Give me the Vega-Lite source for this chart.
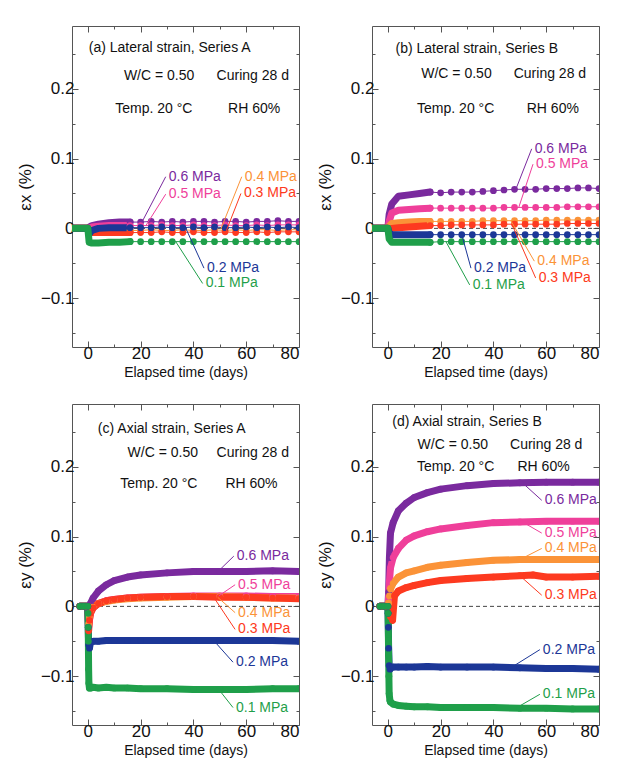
{
"$schema":"https://vega.github.io/schema/vega-lite/v6.json",
"padding":{"left":15,"top":25,"right":5,"bottom":5},
"config":{"font":"Liberation Sans","view":{"stroke":"#555","strokeWidth":1},"axis":{"grid":false,"domain":false,"tickColor":"#555","labelColor":"#111","labelFontSize":17,"titleColor":"#111","titleFontSize":17,"titleFontWeight":"normal"}},
"datasets":{
"series":[
{"panel":1,"series":"0.6 MPa","time":-5.5,"strain":0},{"panel":1,"series":"0.6 MPa","time":-2,"strain":0},{"panel":1,"series":"0.6 MPa","time":0,"strain":0},{"panel":1,"series":"0.6 MPa","time":0.5,"strain":0.002},{"panel":1,"series":"0.6 MPa","time":1.5,"strain":0.004},{"panel":1,"series":"0.6 MPa","time":4,"strain":0.006},{"panel":1,"series":"0.6 MPa","time":8,"strain":0.008},{"panel":1,"series":"0.6 MPa","time":12,"strain":0.009},{"panel":1,"series":"0.6 MPa","time":16,"strain":0.009},{"panel":1,"series":"0.6 MPa","time":20,"strain":0.009},{"panel":1,"series":"0.6 MPa","time":24,"strain":0.010},{"panel":1,"series":"0.6 MPa","time":28,"strain":0.009},{"panel":1,"series":"0.6 MPa","time":32,"strain":0.010},{"panel":1,"series":"0.6 MPa","time":36,"strain":0.009},{"panel":1,"series":"0.6 MPa","time":40,"strain":0.010},{"panel":1,"series":"0.6 MPa","time":44,"strain":0.010},{"panel":1,"series":"0.6 MPa","time":48,"strain":0.009},{"panel":1,"series":"0.6 MPa","time":52,"strain":0.010},{"panel":1,"series":"0.6 MPa","time":56,"strain":0.010},{"panel":1,"series":"0.6 MPa","time":60,"strain":0.009},{"panel":1,"series":"0.6 MPa","time":64,"strain":0.010},{"panel":1,"series":"0.6 MPa","time":68,"strain":0.010},{"panel":1,"series":"0.6 MPa","time":72,"strain":0.011},{"panel":1,"series":"0.6 MPa","time":76,"strain":0.010},{"panel":1,"series":"0.6 MPa","time":80,"strain":0.010},
{"panel":1,"series":"0.5 MPa","time":-5.5,"strain":0},{"panel":1,"series":"0.5 MPa","time":-2,"strain":0},{"panel":1,"series":"0.5 MPa","time":0,"strain":0},{"panel":1,"series":"0.5 MPa","time":0.5,"strain":0},{"panel":1,"series":"0.5 MPa","time":1.5,"strain":0.002},{"panel":1,"series":"0.5 MPa","time":4,"strain":0.003},{"panel":1,"series":"0.5 MPa","time":8,"strain":0.004},{"panel":1,"series":"0.5 MPa","time":12,"strain":0.004},{"panel":1,"series":"0.5 MPa","time":16,"strain":0.004},{"panel":1,"series":"0.5 MPa","time":20,"strain":0.004},{"panel":1,"series":"0.5 MPa","time":24,"strain":0.004},{"panel":1,"series":"0.5 MPa","time":28,"strain":0.005},{"panel":1,"series":"0.5 MPa","time":32,"strain":0.004},{"panel":1,"series":"0.5 MPa","time":36,"strain":0.004},{"panel":1,"series":"0.5 MPa","time":40,"strain":0.005},{"panel":1,"series":"0.5 MPa","time":44,"strain":0.004},{"panel":1,"series":"0.5 MPa","time":48,"strain":0.004},{"panel":1,"series":"0.5 MPa","time":52,"strain":0.005},{"panel":1,"series":"0.5 MPa","time":56,"strain":0.004},{"panel":1,"series":"0.5 MPa","time":60,"strain":0.004},{"panel":1,"series":"0.5 MPa","time":64,"strain":0.005},{"panel":1,"series":"0.5 MPa","time":68,"strain":0.004},{"panel":1,"series":"0.5 MPa","time":72,"strain":0.005},{"panel":1,"series":"0.5 MPa","time":76,"strain":0.005},{"panel":1,"series":"0.5 MPa","time":80,"strain":0.005},
{"panel":1,"series":"0.4 MPa","time":-5.5,"strain":0},{"panel":1,"series":"0.4 MPa","time":-2,"strain":0},{"panel":1,"series":"0.4 MPa","time":0,"strain":0},{"panel":1,"series":"0.4 MPa","time":0.5,"strain":-0.002},{"panel":1,"series":"0.4 MPa","time":1.5,"strain":-0.003},{"panel":1,"series":"0.4 MPa","time":4,"strain":-0.003},{"panel":1,"series":"0.4 MPa","time":8,"strain":-0.003},{"panel":1,"series":"0.4 MPa","time":12,"strain":-0.003},{"panel":1,"series":"0.4 MPa","time":16,"strain":-0.003},{"panel":1,"series":"0.4 MPa","time":20,"strain":-0.003},{"panel":1,"series":"0.4 MPa","time":24,"strain":-0.002},{"panel":1,"series":"0.4 MPa","time":28,"strain":-0.003},{"panel":1,"series":"0.4 MPa","time":32,"strain":-0.003},{"panel":1,"series":"0.4 MPa","time":36,"strain":-0.002},{"panel":1,"series":"0.4 MPa","time":40,"strain":-0.003},{"panel":1,"series":"0.4 MPa","time":44,"strain":-0.003},{"panel":1,"series":"0.4 MPa","time":48,"strain":-0.002},{"panel":1,"series":"0.4 MPa","time":52,"strain":-0.003},{"panel":1,"series":"0.4 MPa","time":56,"strain":-0.002},{"panel":1,"series":"0.4 MPa","time":60,"strain":-0.003},{"panel":1,"series":"0.4 MPa","time":64,"strain":-0.002},{"panel":1,"series":"0.4 MPa","time":68,"strain":-0.002},{"panel":1,"series":"0.4 MPa","time":72,"strain":-0.003},{"panel":1,"series":"0.4 MPa","time":76,"strain":-0.002},{"panel":1,"series":"0.4 MPa","time":80,"strain":-0.002},
{"panel":1,"series":"0.3 MPa","time":-5.5,"strain":0},{"panel":1,"series":"0.3 MPa","time":-2,"strain":0},{"panel":1,"series":"0.3 MPa","time":0,"strain":0},{"panel":1,"series":"0.3 MPa","time":0.5,"strain":-0.004},{"panel":1,"series":"0.3 MPa","time":1.5,"strain":-0.006},{"panel":1,"series":"0.3 MPa","time":4,"strain":-0.006},{"panel":1,"series":"0.3 MPa","time":8,"strain":-0.006},{"panel":1,"series":"0.3 MPa","time":12,"strain":-0.006},{"panel":1,"series":"0.3 MPa","time":16,"strain":-0.006},{"panel":1,"series":"0.3 MPa","time":20,"strain":-0.006},{"panel":1,"series":"0.3 MPa","time":24,"strain":-0.006},{"panel":1,"series":"0.3 MPa","time":28,"strain":-0.005},{"panel":1,"series":"0.3 MPa","time":32,"strain":-0.006},{"panel":1,"series":"0.3 MPa","time":36,"strain":-0.006},{"panel":1,"series":"0.3 MPa","time":40,"strain":-0.005},{"panel":1,"series":"0.3 MPa","time":44,"strain":-0.006},{"panel":1,"series":"0.3 MPa","time":48,"strain":-0.006},{"panel":1,"series":"0.3 MPa","time":52,"strain":-0.005},{"panel":1,"series":"0.3 MPa","time":56,"strain":-0.006},{"panel":1,"series":"0.3 MPa","time":60,"strain":-0.006},{"panel":1,"series":"0.3 MPa","time":64,"strain":-0.005},{"panel":1,"series":"0.3 MPa","time":68,"strain":-0.006},{"panel":1,"series":"0.3 MPa","time":72,"strain":-0.005},{"panel":1,"series":"0.3 MPa","time":76,"strain":-0.005},{"panel":1,"series":"0.3 MPa","time":80,"strain":-0.005},
{"panel":1,"series":"0.2 MPa","time":-5.5,"strain":0},{"panel":1,"series":"0.2 MPa","time":-2,"strain":0},{"panel":1,"series":"0.2 MPa","time":0,"strain":0},{"panel":1,"series":"0.2 MPa","time":0.5,"strain":-0.008},{"panel":1,"series":"0.2 MPa","time":1.5,"strain":-0.003},{"panel":1,"series":"0.2 MPa","time":4,"strain":0},{"panel":1,"series":"0.2 MPa","time":8,"strain":0.001},{"panel":1,"series":"0.2 MPa","time":12,"strain":0.001},{"panel":1,"series":"0.2 MPa","time":16,"strain":0.001},{"panel":1,"series":"0.2 MPa","time":20,"strain":0.001},{"panel":1,"series":"0.2 MPa","time":24,"strain":0.001},{"panel":1,"series":"0.2 MPa","time":28,"strain":0.002},{"panel":1,"series":"0.2 MPa","time":32,"strain":0.001},{"panel":1,"series":"0.2 MPa","time":36,"strain":0.001},{"panel":1,"series":"0.2 MPa","time":40,"strain":0.002},{"panel":1,"series":"0.2 MPa","time":44,"strain":0.001},{"panel":1,"series":"0.2 MPa","time":48,"strain":0.002},{"panel":1,"series":"0.2 MPa","time":52,"strain":0.001},{"panel":1,"series":"0.2 MPa","time":56,"strain":0.001},{"panel":1,"series":"0.2 MPa","time":60,"strain":0.002},{"panel":1,"series":"0.2 MPa","time":64,"strain":0.001},{"panel":1,"series":"0.2 MPa","time":68,"strain":0.002},{"panel":1,"series":"0.2 MPa","time":72,"strain":0.001},{"panel":1,"series":"0.2 MPa","time":76,"strain":0.002},{"panel":1,"series":"0.2 MPa","time":80,"strain":0.001},
{"panel":1,"series":"0.1 MPa","time":-5.5,"strain":0},{"panel":1,"series":"0.1 MPa","time":-2,"strain":0},{"panel":1,"series":"0.1 MPa","time":0,"strain":0},{"panel":1,"series":"0.1 MPa","time":0.5,"strain":-0.02},{"panel":1,"series":"0.1 MPa","time":1.5,"strain":-0.021},{"panel":1,"series":"0.1 MPa","time":4,"strain":-0.021},{"panel":1,"series":"0.1 MPa","time":8,"strain":-0.02},{"panel":1,"series":"0.1 MPa","time":12,"strain":-0.02},{"panel":1,"series":"0.1 MPa","time":16,"strain":-0.019},{"panel":1,"series":"0.1 MPa","time":20,"strain":-0.019},{"panel":1,"series":"0.1 MPa","time":24,"strain":-0.019},{"panel":1,"series":"0.1 MPa","time":28,"strain":-0.019},{"panel":1,"series":"0.1 MPa","time":32,"strain":-0.019},{"panel":1,"series":"0.1 MPa","time":36,"strain":-0.019},{"panel":1,"series":"0.1 MPa","time":40,"strain":-0.019},{"panel":1,"series":"0.1 MPa","time":44,"strain":-0.019},{"panel":1,"series":"0.1 MPa","time":48,"strain":-0.019},{"panel":1,"series":"0.1 MPa","time":52,"strain":-0.019},{"panel":1,"series":"0.1 MPa","time":56,"strain":-0.019},{"panel":1,"series":"0.1 MPa","time":60,"strain":-0.019},{"panel":1,"series":"0.1 MPa","time":64,"strain":-0.019},{"panel":1,"series":"0.1 MPa","time":68,"strain":-0.019},{"panel":1,"series":"0.1 MPa","time":72,"strain":-0.019},{"panel":1,"series":"0.1 MPa","time":76,"strain":-0.019},{"panel":1,"series":"0.1 MPa","time":80,"strain":-0.019},
{"panel":2,"series":"0.6 MPa","time":-5.5,"strain":0},{"panel":2,"series":"0.6 MPa","time":-2,"strain":0},{"panel":2,"series":"0.6 MPa","time":0,"strain":0},{"panel":2,"series":"0.6 MPa","time":0.5,"strain":0.02},{"panel":2,"series":"0.6 MPa","time":1.5,"strain":0.035},{"panel":2,"series":"0.6 MPa","time":4,"strain":0.046},{"panel":2,"series":"0.6 MPa","time":8,"strain":0.048},{"panel":2,"series":"0.6 MPa","time":12,"strain":0.05},{"panel":2,"series":"0.6 MPa","time":16,"strain":0.052},{"panel":2,"series":"0.6 MPa","time":20,"strain":0.051},{"panel":2,"series":"0.6 MPa","time":24,"strain":0.052},{"panel":2,"series":"0.6 MPa","time":28,"strain":0.052},{"panel":2,"series":"0.6 MPa","time":32,"strain":0.052},{"panel":2,"series":"0.6 MPa","time":36,"strain":0.053},{"panel":2,"series":"0.6 MPa","time":40,"strain":0.054},{"panel":2,"series":"0.6 MPa","time":44,"strain":0.055},{"panel":2,"series":"0.6 MPa","time":48,"strain":0.056},{"panel":2,"series":"0.6 MPa","time":52,"strain":0.056},{"panel":2,"series":"0.6 MPa","time":56,"strain":0.056},{"panel":2,"series":"0.6 MPa","time":60,"strain":0.057},{"panel":2,"series":"0.6 MPa","time":64,"strain":0.057},{"panel":2,"series":"0.6 MPa","time":68,"strain":0.057},{"panel":2,"series":"0.6 MPa","time":72,"strain":0.058},{"panel":2,"series":"0.6 MPa","time":76,"strain":0.058},{"panel":2,"series":"0.6 MPa","time":80,"strain":0.057},
{"panel":2,"series":"0.5 MPa","time":-5.5,"strain":0},{"panel":2,"series":"0.5 MPa","time":-2,"strain":0},{"panel":2,"series":"0.5 MPa","time":0,"strain":0},{"panel":2,"series":"0.5 MPa","time":0.5,"strain":0.01},{"panel":2,"series":"0.5 MPa","time":1.5,"strain":0.022},{"panel":2,"series":"0.5 MPa","time":4,"strain":0.026},{"panel":2,"series":"0.5 MPa","time":8,"strain":0.027},{"panel":2,"series":"0.5 MPa","time":12,"strain":0.028},{"panel":2,"series":"0.5 MPa","time":16,"strain":0.029},{"panel":2,"series":"0.5 MPa","time":20,"strain":0.029},{"panel":2,"series":"0.5 MPa","time":24,"strain":0.029},{"panel":2,"series":"0.5 MPa","time":28,"strain":0.029},{"panel":2,"series":"0.5 MPa","time":32,"strain":0.029},{"panel":2,"series":"0.5 MPa","time":36,"strain":0.029},{"panel":2,"series":"0.5 MPa","time":40,"strain":0.029},{"panel":2,"series":"0.5 MPa","time":44,"strain":0.03},{"panel":2,"series":"0.5 MPa","time":48,"strain":0.03},{"panel":2,"series":"0.5 MPa","time":52,"strain":0.03},{"panel":2,"series":"0.5 MPa","time":56,"strain":0.03},{"panel":2,"series":"0.5 MPa","time":60,"strain":0.03},{"panel":2,"series":"0.5 MPa","time":64,"strain":0.03},{"panel":2,"series":"0.5 MPa","time":68,"strain":0.031},{"panel":2,"series":"0.5 MPa","time":72,"strain":0.031},{"panel":2,"series":"0.5 MPa","time":76,"strain":0.031},{"panel":2,"series":"0.5 MPa","time":80,"strain":0.031},
{"panel":2,"series":"0.4 MPa","time":-5.5,"strain":0},{"panel":2,"series":"0.4 MPa","time":-2,"strain":0},{"panel":2,"series":"0.4 MPa","time":0,"strain":0},{"panel":2,"series":"0.4 MPa","time":0.5,"strain":0.003},{"panel":2,"series":"0.4 MPa","time":1.5,"strain":0.007},{"panel":2,"series":"0.4 MPa","time":4,"strain":0.008},{"panel":2,"series":"0.4 MPa","time":8,"strain":0.009},{"panel":2,"series":"0.4 MPa","time":12,"strain":0.01},{"panel":2,"series":"0.4 MPa","time":16,"strain":0.01},{"panel":2,"series":"0.4 MPa","time":20,"strain":0.01},{"panel":2,"series":"0.4 MPa","time":24,"strain":0.01},{"panel":2,"series":"0.4 MPa","time":28,"strain":0.01},{"panel":2,"series":"0.4 MPa","time":32,"strain":0.01},{"panel":2,"series":"0.4 MPa","time":36,"strain":0.011},{"panel":2,"series":"0.4 MPa","time":40,"strain":0.011},{"panel":2,"series":"0.4 MPa","time":44,"strain":0.011},{"panel":2,"series":"0.4 MPa","time":48,"strain":0.011},{"panel":2,"series":"0.4 MPa","time":52,"strain":0.011},{"panel":2,"series":"0.4 MPa","time":56,"strain":0.011},{"panel":2,"series":"0.4 MPa","time":60,"strain":0.012},{"panel":2,"series":"0.4 MPa","time":64,"strain":0.012},{"panel":2,"series":"0.4 MPa","time":68,"strain":0.012},{"panel":2,"series":"0.4 MPa","time":72,"strain":0.012},{"panel":2,"series":"0.4 MPa","time":76,"strain":0.012},{"panel":2,"series":"0.4 MPa","time":80,"strain":0.012},
{"panel":2,"series":"0.3 MPa","time":-5.5,"strain":0},{"panel":2,"series":"0.3 MPa","time":-2,"strain":0},{"panel":2,"series":"0.3 MPa","time":0,"strain":0},{"panel":2,"series":"0.3 MPa","time":0.5,"strain":-0.002},{"panel":2,"series":"0.3 MPa","time":1.5,"strain":0},{"panel":2,"series":"0.3 MPa","time":4,"strain":0.001},{"panel":2,"series":"0.3 MPa","time":8,"strain":0.002},{"panel":2,"series":"0.3 MPa","time":12,"strain":0.003},{"panel":2,"series":"0.3 MPa","time":16,"strain":0.004},{"panel":2,"series":"0.3 MPa","time":20,"strain":0.004},{"panel":2,"series":"0.3 MPa","time":24,"strain":0.005},{"panel":2,"series":"0.3 MPa","time":28,"strain":0.005},{"panel":2,"series":"0.3 MPa","time":32,"strain":0.005},{"panel":2,"series":"0.3 MPa","time":36,"strain":0.005},{"panel":2,"series":"0.3 MPa","time":40,"strain":0.005},{"panel":2,"series":"0.3 MPa","time":44,"strain":0.006},{"panel":2,"series":"0.3 MPa","time":48,"strain":0.006},{"panel":2,"series":"0.3 MPa","time":52,"strain":0.006},{"panel":2,"series":"0.3 MPa","time":56,"strain":0.006},{"panel":2,"series":"0.3 MPa","time":60,"strain":0.006},{"panel":2,"series":"0.3 MPa","time":64,"strain":0.006},{"panel":2,"series":"0.3 MPa","time":68,"strain":0.007},{"panel":2,"series":"0.3 MPa","time":72,"strain":0.007},{"panel":2,"series":"0.3 MPa","time":76,"strain":0.007},{"panel":2,"series":"0.3 MPa","time":80,"strain":0.007},
{"panel":2,"series":"0.2 MPa","time":-5.5,"strain":0},{"panel":2,"series":"0.2 MPa","time":-2,"strain":0},{"panel":2,"series":"0.2 MPa","time":0,"strain":0},{"panel":2,"series":"0.2 MPa","time":0.5,"strain":-0.006},{"panel":2,"series":"0.2 MPa","time":1.5,"strain":-0.009},{"panel":2,"series":"0.2 MPa","time":4,"strain":-0.009},{"panel":2,"series":"0.2 MPa","time":8,"strain":-0.009},{"panel":2,"series":"0.2 MPa","time":12,"strain":-0.009},{"panel":2,"series":"0.2 MPa","time":16,"strain":-0.009},{"panel":2,"series":"0.2 MPa","time":20,"strain":-0.009},{"panel":2,"series":"0.2 MPa","time":24,"strain":-0.009},{"panel":2,"series":"0.2 MPa","time":28,"strain":-0.009},{"panel":2,"series":"0.2 MPa","time":32,"strain":-0.009},{"panel":2,"series":"0.2 MPa","time":36,"strain":-0.009},{"panel":2,"series":"0.2 MPa","time":40,"strain":-0.009},{"panel":2,"series":"0.2 MPa","time":44,"strain":-0.009},{"panel":2,"series":"0.2 MPa","time":48,"strain":-0.009},{"panel":2,"series":"0.2 MPa","time":52,"strain":-0.009},{"panel":2,"series":"0.2 MPa","time":56,"strain":-0.009},{"panel":2,"series":"0.2 MPa","time":60,"strain":-0.009},{"panel":2,"series":"0.2 MPa","time":64,"strain":-0.009},{"panel":2,"series":"0.2 MPa","time":68,"strain":-0.009},{"panel":2,"series":"0.2 MPa","time":72,"strain":-0.009},{"panel":2,"series":"0.2 MPa","time":76,"strain":-0.009},{"panel":2,"series":"0.2 MPa","time":80,"strain":-0.009},
{"panel":2,"series":"0.1 MPa","time":-5.5,"strain":0},{"panel":2,"series":"0.1 MPa","time":-2,"strain":0},{"panel":2,"series":"0.1 MPa","time":0,"strain":0},{"panel":2,"series":"0.1 MPa","time":0.5,"strain":-0.015},{"panel":2,"series":"0.1 MPa","time":1.5,"strain":-0.02},{"panel":2,"series":"0.1 MPa","time":4,"strain":-0.02},{"panel":2,"series":"0.1 MPa","time":8,"strain":-0.02},{"panel":2,"series":"0.1 MPa","time":12,"strain":-0.02},{"panel":2,"series":"0.1 MPa","time":16,"strain":-0.02},{"panel":2,"series":"0.1 MPa","time":20,"strain":-0.019},{"panel":2,"series":"0.1 MPa","time":24,"strain":-0.019},{"panel":2,"series":"0.1 MPa","time":28,"strain":-0.019},{"panel":2,"series":"0.1 MPa","time":32,"strain":-0.019},{"panel":2,"series":"0.1 MPa","time":36,"strain":-0.019},{"panel":2,"series":"0.1 MPa","time":40,"strain":-0.019},{"panel":2,"series":"0.1 MPa","time":44,"strain":-0.019},{"panel":2,"series":"0.1 MPa","time":48,"strain":-0.019},{"panel":2,"series":"0.1 MPa","time":52,"strain":-0.019},{"panel":2,"series":"0.1 MPa","time":56,"strain":-0.019},{"panel":2,"series":"0.1 MPa","time":60,"strain":-0.019},{"panel":2,"series":"0.1 MPa","time":64,"strain":-0.019},{"panel":2,"series":"0.1 MPa","time":68,"strain":-0.019},{"panel":2,"series":"0.1 MPa","time":72,"strain":-0.019},{"panel":2,"series":"0.1 MPa","time":76,"strain":-0.019},{"panel":2,"series":"0.1 MPa","time":80,"strain":-0.019},
{"panel":3,"series":"0.6 MPa","time":-3,"strain":0},{"panel":3,"series":"0.6 MPa","time":-1.5,"strain":0},{"panel":3,"series":"0.6 MPa","time":0,"strain":0},{"panel":3,"series":"0.6 MPa","time":0.3,"strain":-0.005},{"panel":3,"series":"0.6 MPa","time":0.6,"strain":-0.002},{"panel":3,"series":"0.6 MPa","time":1,"strain":0.004},{"panel":3,"series":"0.6 MPa","time":2,"strain":0.012},{"panel":3,"series":"0.6 MPa","time":4,"strain":0.022},{"panel":3,"series":"0.6 MPa","time":7,"strain":0.031},{"panel":3,"series":"0.6 MPa","time":10,"strain":0.037},{"panel":3,"series":"0.6 MPa","time":15,"strain":0.042},{"panel":3,"series":"0.6 MPa","time":20,"strain":0.045},{"panel":3,"series":"0.6 MPa","time":30,"strain":0.048},{"panel":3,"series":"0.6 MPa","time":40,"strain":0.05},{"panel":3,"series":"0.6 MPa","time":50,"strain":0.05},{"panel":3,"series":"0.6 MPa","time":60,"strain":0.05},{"panel":3,"series":"0.6 MPa","time":70,"strain":0.051},{"panel":3,"series":"0.6 MPa","time":80,"strain":0.05},
{"panel":3,"series":"0.5 MPa","time":-3,"strain":0},{"panel":3,"series":"0.5 MPa","time":-1.5,"strain":0},{"panel":3,"series":"0.5 MPa","time":0,"strain":0},{"panel":3,"series":"0.5 MPa","time":0.3,"strain":-0.03},{"panel":3,"series":"0.5 MPa","time":0.6,"strain":-0.02},{"panel":3,"series":"0.5 MPa","time":1,"strain":-0.01},{"panel":3,"series":"0.5 MPa","time":2,"strain":-0.002},{"panel":3,"series":"0.5 MPa","time":4,"strain":0.004},{"panel":3,"series":"0.5 MPa","time":7,"strain":0.008},{"panel":3,"series":"0.5 MPa","time":10,"strain":0.01},{"panel":3,"series":"0.5 MPa","time":15,"strain":0.012},{"panel":3,"series":"0.5 MPa","time":20,"strain":0.013},{"panel":3,"series":"0.5 MPa","time":30,"strain":0.014},{"panel":3,"series":"0.5 MPa","time":40,"strain":0.015},{"panel":3,"series":"0.5 MPa","time":50,"strain":0.015},{"panel":3,"series":"0.5 MPa","time":60,"strain":0.015},{"panel":3,"series":"0.5 MPa","time":70,"strain":0.014},{"panel":3,"series":"0.5 MPa","time":80,"strain":0.014},
{"panel":3,"series":"0.4 MPa","time":-3,"strain":0},{"panel":3,"series":"0.4 MPa","time":-1.5,"strain":0},{"panel":3,"series":"0.4 MPa","time":0,"strain":0},{"panel":3,"series":"0.4 MPa","time":0.3,"strain":-0.025},{"panel":3,"series":"0.4 MPa","time":0.6,"strain":-0.015},{"panel":3,"series":"0.4 MPa","time":1,"strain":-0.008},{"panel":3,"series":"0.4 MPa","time":2,"strain":-0.001},{"panel":3,"series":"0.4 MPa","time":4,"strain":0.004},{"panel":3,"series":"0.4 MPa","time":7,"strain":0.007},{"panel":3,"series":"0.4 MPa","time":10,"strain":0.009},{"panel":3,"series":"0.4 MPa","time":15,"strain":0.011},{"panel":3,"series":"0.4 MPa","time":20,"strain":0.012},{"panel":3,"series":"0.4 MPa","time":30,"strain":0.013},{"panel":3,"series":"0.4 MPa","time":40,"strain":0.014},{"panel":3,"series":"0.4 MPa","time":50,"strain":0.014},{"panel":3,"series":"0.4 MPa","time":60,"strain":0.013},{"panel":3,"series":"0.4 MPa","time":70,"strain":0.012},{"panel":3,"series":"0.4 MPa","time":80,"strain":0.012},
{"panel":3,"series":"0.3 MPa","time":-3,"strain":0},{"panel":3,"series":"0.3 MPa","time":-1.5,"strain":0},{"panel":3,"series":"0.3 MPa","time":0,"strain":0},{"panel":3,"series":"0.3 MPa","time":0.3,"strain":-0.035},{"panel":3,"series":"0.3 MPa","time":0.6,"strain":-0.02},{"panel":3,"series":"0.3 MPa","time":1,"strain":-0.01},{"panel":3,"series":"0.3 MPa","time":2,"strain":-0.002},{"panel":3,"series":"0.3 MPa","time":4,"strain":0.004},{"panel":3,"series":"0.3 MPa","time":7,"strain":0.008},{"panel":3,"series":"0.3 MPa","time":10,"strain":0.01},{"panel":3,"series":"0.3 MPa","time":15,"strain":0.012},{"panel":3,"series":"0.3 MPa","time":20,"strain":0.013},{"panel":3,"series":"0.3 MPa","time":30,"strain":0.014},{"panel":3,"series":"0.3 MPa","time":40,"strain":0.014},{"panel":3,"series":"0.3 MPa","time":50,"strain":0.013},{"panel":3,"series":"0.3 MPa","time":60,"strain":0.013},{"panel":3,"series":"0.3 MPa","time":70,"strain":0.012},{"panel":3,"series":"0.3 MPa","time":80,"strain":0.011},
{"panel":3,"series":"0.2 MPa","time":-3,"strain":0},{"panel":3,"series":"0.2 MPa","time":-1.5,"strain":0},{"panel":3,"series":"0.2 MPa","time":0,"strain":0},{"panel":3,"series":"0.2 MPa","time":0.15,"strain":-0.03},{"panel":3,"series":"0.2 MPa","time":0.3,"strain":-0.055},{"panel":3,"series":"0.2 MPa","time":0.6,"strain":-0.06},{"panel":3,"series":"0.2 MPa","time":1,"strain":-0.052},{"panel":3,"series":"0.2 MPa","time":2,"strain":-0.05},{"panel":3,"series":"0.2 MPa","time":4,"strain":-0.05},{"panel":3,"series":"0.2 MPa","time":7,"strain":-0.049},{"panel":3,"series":"0.2 MPa","time":10,"strain":-0.049},{"panel":3,"series":"0.2 MPa","time":15,"strain":-0.049},{"panel":3,"series":"0.2 MPa","time":20,"strain":-0.049},{"panel":3,"series":"0.2 MPa","time":30,"strain":-0.049},{"panel":3,"series":"0.2 MPa","time":40,"strain":-0.049},{"panel":3,"series":"0.2 MPa","time":50,"strain":-0.049},{"panel":3,"series":"0.2 MPa","time":60,"strain":-0.049},{"panel":3,"series":"0.2 MPa","time":70,"strain":-0.049},{"panel":3,"series":"0.2 MPa","time":80,"strain":-0.05},
{"panel":3,"series":"0.1 MPa","time":-3,"strain":0},{"panel":3,"series":"0.1 MPa","time":-1.5,"strain":0},{"panel":3,"series":"0.1 MPa","time":0,"strain":0},{"panel":3,"series":"0.1 MPa","time":0.1,"strain":-0.01},{"panel":3,"series":"0.1 MPa","time":0.15,"strain":-0.03},{"panel":3,"series":"0.1 MPa","time":0.2,"strain":-0.05},{"panel":3,"series":"0.1 MPa","time":0.25,"strain":-0.07},{"panel":3,"series":"0.1 MPa","time":0.3,"strain":-0.09},{"panel":3,"series":"0.1 MPa","time":0.4,"strain":-0.11},{"panel":3,"series":"0.1 MPa","time":0.6,"strain":-0.117},{"panel":3,"series":"0.1 MPa","time":1,"strain":-0.117},{"panel":3,"series":"0.1 MPa","time":2,"strain":-0.116},{"panel":3,"series":"0.1 MPa","time":4,"strain":-0.117},{"panel":3,"series":"0.1 MPa","time":7,"strain":-0.116},{"panel":3,"series":"0.1 MPa","time":10,"strain":-0.117},{"panel":3,"series":"0.1 MPa","time":15,"strain":-0.117},{"panel":3,"series":"0.1 MPa","time":20,"strain":-0.118},{"panel":3,"series":"0.1 MPa","time":30,"strain":-0.118},{"panel":3,"series":"0.1 MPa","time":40,"strain":-0.119},{"panel":3,"series":"0.1 MPa","time":50,"strain":-0.119},{"panel":3,"series":"0.1 MPa","time":60,"strain":-0.119},{"panel":3,"series":"0.1 MPa","time":70,"strain":-0.118},{"panel":3,"series":"0.1 MPa","time":80,"strain":-0.118},
{"panel":4,"series":"0.6 MPa","time":-3,"strain":0},{"panel":4,"series":"0.6 MPa","time":-1.5,"strain":0},{"panel":4,"series":"0.6 MPa","time":0,"strain":0},{"panel":4,"series":"0.6 MPa","time":0.3,"strain":0.02},{"panel":4,"series":"0.6 MPa","time":0.6,"strain":0.07},{"panel":4,"series":"0.6 MPa","time":1,"strain":0.105},{"panel":4,"series":"0.6 MPa","time":2,"strain":0.12},{"panel":4,"series":"0.6 MPa","time":4,"strain":0.137},{"panel":4,"series":"0.6 MPa","time":7,"strain":0.148},{"panel":4,"series":"0.6 MPa","time":10,"strain":0.156},{"panel":4,"series":"0.6 MPa","time":15,"strain":0.163},{"panel":4,"series":"0.6 MPa","time":20,"strain":0.168},{"panel":4,"series":"0.6 MPa","time":30,"strain":0.173},{"panel":4,"series":"0.6 MPa","time":40,"strain":0.176},{"panel":4,"series":"0.6 MPa","time":50,"strain":0.177},{"panel":4,"series":"0.6 MPa","time":60,"strain":0.178},{"panel":4,"series":"0.6 MPa","time":70,"strain":0.178},{"panel":4,"series":"0.6 MPa","time":80,"strain":0.178},
{"panel":4,"series":"0.5 MPa","time":-3,"strain":0},{"panel":4,"series":"0.5 MPa","time":-1.5,"strain":0},{"panel":4,"series":"0.5 MPa","time":0,"strain":0},{"panel":4,"series":"0.5 MPa","time":0.3,"strain":0.01},{"panel":4,"series":"0.5 MPa","time":0.6,"strain":0.035},{"panel":4,"series":"0.5 MPa","time":1,"strain":0.055},{"panel":4,"series":"0.5 MPa","time":2,"strain":0.07},{"panel":4,"series":"0.5 MPa","time":4,"strain":0.083},{"panel":4,"series":"0.5 MPa","time":7,"strain":0.095},{"panel":4,"series":"0.5 MPa","time":10,"strain":0.101},{"panel":4,"series":"0.5 MPa","time":15,"strain":0.107},{"panel":4,"series":"0.5 MPa","time":20,"strain":0.111},{"panel":4,"series":"0.5 MPa","time":30,"strain":0.116},{"panel":4,"series":"0.5 MPa","time":40,"strain":0.12},{"panel":4,"series":"0.5 MPa","time":50,"strain":0.121},{"panel":4,"series":"0.5 MPa","time":60,"strain":0.122},{"panel":4,"series":"0.5 MPa","time":70,"strain":0.122},{"panel":4,"series":"0.5 MPa","time":80,"strain":0.122},
{"panel":4,"series":"0.4 MPa","time":-3,"strain":0},{"panel":4,"series":"0.4 MPa","time":-1.5,"strain":0},{"panel":4,"series":"0.4 MPa","time":0,"strain":0},{"panel":4,"series":"0.4 MPa","time":0.3,"strain":0.005},{"panel":4,"series":"0.4 MPa","time":0.6,"strain":0.015},{"panel":4,"series":"0.4 MPa","time":1,"strain":0.025},{"panel":4,"series":"0.4 MPa","time":2,"strain":0.033},{"panel":4,"series":"0.4 MPa","time":4,"strain":0.042},{"panel":4,"series":"0.4 MPa","time":7,"strain":0.048},{"panel":4,"series":"0.4 MPa","time":10,"strain":0.051},{"panel":4,"series":"0.4 MPa","time":15,"strain":0.056},{"panel":4,"series":"0.4 MPa","time":20,"strain":0.059},{"panel":4,"series":"0.4 MPa","time":30,"strain":0.063},{"panel":4,"series":"0.4 MPa","time":40,"strain":0.066},{"panel":4,"series":"0.4 MPa","time":50,"strain":0.067},{"panel":4,"series":"0.4 MPa","time":60,"strain":0.067},{"panel":4,"series":"0.4 MPa","time":70,"strain":0.067},{"panel":4,"series":"0.4 MPa","time":80,"strain":0.067},
{"panel":4,"series":"0.3 MPa","time":-3,"strain":0},{"panel":4,"series":"0.3 MPa","time":-1.5,"strain":0},{"panel":4,"series":"0.3 MPa","time":0,"strain":0},{"panel":4,"series":"0.3 MPa","time":0.5,"strain":-0.005},{"panel":4,"series":"0.3 MPa","time":1,"strain":-0.015},{"panel":4,"series":"0.3 MPa","time":1.8,"strain":-0.02},{"panel":4,"series":"0.3 MPa","time":2.5,"strain":0.015},{"panel":4,"series":"0.3 MPa","time":4,"strain":0.022},{"panel":4,"series":"0.3 MPa","time":7,"strain":0.027},{"panel":4,"series":"0.3 MPa","time":10,"strain":0.03},{"panel":4,"series":"0.3 MPa","time":15,"strain":0.034},{"panel":4,"series":"0.3 MPa","time":20,"strain":0.037},{"panel":4,"series":"0.3 MPa","time":30,"strain":0.04},{"panel":4,"series":"0.3 MPa","time":40,"strain":0.042},{"panel":4,"series":"0.3 MPa","time":50,"strain":0.044},{"panel":4,"series":"0.3 MPa","time":55,"strain":0.045},{"panel":4,"series":"0.3 MPa","time":60,"strain":0.042},{"panel":4,"series":"0.3 MPa","time":70,"strain":0.042},{"panel":4,"series":"0.3 MPa","time":80,"strain":0.043},
{"panel":4,"series":"0.2 MPa","time":-3,"strain":0},{"panel":4,"series":"0.2 MPa","time":-1.5,"strain":0},{"panel":4,"series":"0.2 MPa","time":0,"strain":0},{"panel":4,"series":"0.2 MPa","time":0.1,"strain":-0.01},{"panel":4,"series":"0.2 MPa","time":0.2,"strain":-0.03},{"panel":4,"series":"0.2 MPa","time":0.3,"strain":-0.06},{"panel":4,"series":"0.2 MPa","time":0.5,"strain":-0.085},{"panel":4,"series":"0.2 MPa","time":0.8,"strain":-0.09},{"panel":4,"series":"0.2 MPa","time":1,"strain":-0.088},{"panel":4,"series":"0.2 MPa","time":2,"strain":-0.087},{"panel":4,"series":"0.2 MPa","time":4,"strain":-0.087},{"panel":4,"series":"0.2 MPa","time":7,"strain":-0.087},{"panel":4,"series":"0.2 MPa","time":10,"strain":-0.087},{"panel":4,"series":"0.2 MPa","time":15,"strain":-0.086},{"panel":4,"series":"0.2 MPa","time":20,"strain":-0.087},{"panel":4,"series":"0.2 MPa","time":30,"strain":-0.087},{"panel":4,"series":"0.2 MPa","time":40,"strain":-0.087},{"panel":4,"series":"0.2 MPa","time":50,"strain":-0.088},{"panel":4,"series":"0.2 MPa","time":60,"strain":-0.089},{"panel":4,"series":"0.2 MPa","time":70,"strain":-0.089},{"panel":4,"series":"0.2 MPa","time":80,"strain":-0.09},
{"panel":4,"series":"0.1 MPa","time":-3,"strain":0},{"panel":4,"series":"0.1 MPa","time":-1.5,"strain":0},{"panel":4,"series":"0.1 MPa","time":0,"strain":0},{"panel":4,"series":"0.1 MPa","time":0.1,"strain":-0.01},{"panel":4,"series":"0.1 MPa","time":0.2,"strain":-0.04},{"panel":4,"series":"0.1 MPa","time":0.3,"strain":-0.07},{"panel":4,"series":"0.1 MPa","time":0.4,"strain":-0.1},{"panel":4,"series":"0.1 MPa","time":0.5,"strain":-0.125},{"panel":4,"series":"0.1 MPa","time":0.8,"strain":-0.135},{"panel":4,"series":"0.1 MPa","time":1,"strain":-0.137},{"panel":4,"series":"0.1 MPa","time":2,"strain":-0.14},{"panel":4,"series":"0.1 MPa","time":4,"strain":-0.142},{"panel":4,"series":"0.1 MPa","time":7,"strain":-0.143},{"panel":4,"series":"0.1 MPa","time":10,"strain":-0.144},{"panel":4,"series":"0.1 MPa","time":15,"strain":-0.144},{"panel":4,"series":"0.1 MPa","time":20,"strain":-0.145},{"panel":4,"series":"0.1 MPa","time":30,"strain":-0.145},{"panel":4,"series":"0.1 MPa","time":40,"strain":-0.145},{"panel":4,"series":"0.1 MPa","time":50,"strain":-0.146},{"panel":4,"series":"0.1 MPa","time":60,"strain":-0.146},{"panel":4,"series":"0.1 MPa","time":70,"strain":-0.147},{"panel":4,"series":"0.1 MPa","time":80,"strain":-0.147}
],
"leaders":[
{"panel":1,"series":"0.6 MPa","time":20.5,"strain":0.009,"time2":29.5,"strain2":0.074},
{"panel":1,"series":"0.5 MPa","time":22,"strain":0.004,"time2":29.5,"strain2":0.049},
{"panel":1,"series":"0.4 MPa","time":50.4,"strain":-0.001,"time2":58.3,"strain2":0.074},
{"panel":1,"series":"0.3 MPa","time":52.3,"strain":-0.005,"time2":58,"strain2":0.05},
{"panel":1,"series":"0.2 MPa","time":37,"strain":0.001,"time2":44,"strain2":-0.057},
{"panel":1,"series":"0.1 MPa","time":33.3,"strain":-0.019,"time2":43.5,"strain2":-0.079},
{"panel":2,"series":"0.6 MPa","time":48.5,"strain":0.056,"time2":54.5,"strain2":0.114},
{"panel":2,"series":"0.5 MPa","time":49.6,"strain":0.03,"time2":55,"strain2":0.092},
{"panel":2,"series":"0.4 MPa","time":46.6,"strain":0.011,"time2":55.5,"strain2":-0.047},
{"panel":2,"series":"0.3 MPa","time":47,"strain":0.006,"time2":56,"strain2":-0.071},
{"panel":2,"series":"0.2 MPa","time":28,"strain":-0.009,"time2":31.5,"strain2":-0.057},
{"panel":2,"series":"0.1 MPa","time":22,"strain":-0.019,"time2":31,"strain2":-0.081},
{"panel":3,"series":"0.6 MPa","time":49.6,"strain":0.051,"time2":55.3,"strain2":0.072},
{"panel":3,"series":"0.5 MPa","time":49.6,"strain":0.015,"time2":55.8,"strain2":0.031},
{"panel":3,"series":"0.4 MPa","time":49.2,"strain":0.013,"time2":55.8,"strain2":-0.009},
{"panel":3,"series":"0.3 MPa","time":47.7,"strain":0.013,"time2":55.8,"strain2":-0.033},
{"panel":3,"series":"0.2 MPa","time":47.7,"strain":-0.049,"time2":55,"strain2":-0.08},
{"panel":3,"series":"0.1 MPa","time":49.6,"strain":-0.119,"time2":55,"strain2":-0.145},
{"panel":4,"series":"0.6 MPa","time":51,"strain":0.177,"time2":58.3,"strain2":0.152},
{"panel":4,"series":"0.5 MPa","time":51,"strain":0.121,"time2":58.3,"strain2":0.105},
{"panel":4,"series":"0.4 MPa","time":50,"strain":0.067,"time2":58.3,"strain2":0.083},
{"panel":4,"series":"0.3 MPa","time":50,"strain":0.044,"time2":58.3,"strain2":0.016},
{"panel":4,"series":"0.2 MPa","time":47,"strain":-0.087,"time2":57.6,"strain2":-0.062},
{"panel":4,"series":"0.1 MPa","time":48.9,"strain":-0.145,"time2":57.6,"strain2":-0.126}
],
"notes":[
{"panel":1,"time":31,"strain":0.259,"note":"(a) Lateral strain, Series A"},
{"panel":1,"time":27,"strain":0.219,"note":"W/C = 0.50"},
{"panel":1,"time":62.5,"strain":0.219,"note":"Curing 28 d"},
{"panel":1,"time":25,"strain":0.171,"note":"Temp. 20 °C"},
{"panel":1,"time":63,"strain":0.171,"note":"RH 60%"},
{"panel":2,"time":33.7,"strain":0.257,"note":"(b) Lateral strain, Series B"},
{"panel":2,"time":26,"strain":0.221,"note":"W/C = 0.50"},
{"panel":2,"time":61.4,"strain":0.221,"note":"Curing 28 d"},
{"panel":2,"time":25.7,"strain":0.171,"note":"Temp. 20 °C"},
{"panel":2,"time":62.5,"strain":0.171,"note":"RH 60%"},
{"panel":3,"time":31.8,"strain":0.254,"note":"(c) Axial strain, Series A"},
{"panel":3,"time":28.4,"strain":0.22,"note":"W/C = 0.50"},
{"panel":3,"time":62.5,"strain":0.22,"note":"Curing 28 d"},
{"panel":3,"time":26.9,"strain":0.176,"note":"Temp. 20 °C"},
{"panel":3,"time":62,"strain":0.176,"note":"RH 60%"},
{"panel":4,"time":30,"strain":0.264,"note":"(d) Axial strain, Series B"},
{"panel":4,"time":24.6,"strain":0.231,"note":"W/C = 0.50"},
{"panel":4,"time":60,"strain":0.231,"note":"Curing 28 d"},
{"panel":4,"time":25.7,"strain":0.2,"note":"Temp. 20 °C"},
{"panel":4,"time":59,"strain":0.2,"note":"RH 60%"}
]
},
"bounds":"flush",
"columns":2,
"spacing":{"row":57,"column":73},
"concat":[
{"width":227,"height":321,"resolve":{"axis":{"x":"independent","y":"independent"}},"layer":[
{"data":{"values":[{"baseline":0}]},"mark":{"type":"rule","strokeDash":[4,3],"color":"#444","strokeWidth":1},"encoding":{"y":{"field":"baseline","type":"quantitative","scale":{"domain":[-0.17,0.29],"nice":false,"zero":false},"axis":null}}},
{"data":{"name":"series"},"transform":[{"filter":"datum.panel == 1 && datum.time <= 16"}],"mark":{"type":"line","strokeWidth":7,"strokeCap":"round","strokeJoin":"round","clip":true},"encoding":{"x":{"field":"time","type":"quantitative","scale":{"domain":[-6,80],"nice":false,"zero":false},"axis":{"orient":"bottom","values":[0,20,40,60,80],"tickSize":-6,"labelPadding":4,"title":"Elapsed time (days)","titleFontSize":14,"titlePadding":4}},"y":{"field":"strain","type":"quantitative","scale":{"domain":[-0.17,0.29],"nice":false,"zero":false},"axis":{"orient":"left","values":[-0.1,0,0.1,0.2],"tickSize":-6,"labelPadding":4,"labelExpr":"datum.value == 0 ? '0' : format(datum.value, '.1f')","title":"εx (%)","titlePadding":6}},"color":{"field":"series","type":"nominal","scale":{"domain":["0.6 MPa","0.5 MPa","0.4 MPa","0.3 MPa","0.2 MPa","0.1 MPa"],"range":["#7a2a9e","#ef3f9a","#fb9338","#fd3a20","#1c3797","#1f9f4a"]},"legend":null}}},
{"data":{"name":"series"},"transform":[{"filter":"datum.panel == 1 && datum.time >= 16"}],"mark":{"type":"line","strokeWidth":1,"clip":true},"encoding":{"x":{"field":"time","type":"quantitative","scale":{"domain":[-6,80],"nice":false,"zero":false},"axis":null},"y":{"field":"strain","type":"quantitative","scale":{"domain":[-0.17,0.29],"nice":false,"zero":false},"axis":null},"color":{"field":"series","type":"nominal","legend":null}}},
{"data":{"name":"series"},"transform":[{"filter":"datum.panel == 1 && datum.time >= 16"}],"mark":{"type":"circle","size":45,"opacity":1,"clip":true},"encoding":{"x":{"field":"time","type":"quantitative","scale":{"domain":[-6,80],"nice":false,"zero":false},"axis":null},"y":{"field":"strain","type":"quantitative","scale":{"domain":[-0.17,0.29],"nice":false,"zero":false},"axis":null},"color":{"field":"series","type":"nominal","legend":null}}},
{"data":{"name":"leaders"},"transform":[{"filter":"datum.panel == 1"}],"mark":{"type":"rule","strokeWidth":1},"encoding":{"x":{"field":"time","type":"quantitative","scale":{"domain":[-6,80],"nice":false,"zero":false},"axis":null},"y":{"field":"strain","type":"quantitative","scale":{"domain":[-0.17,0.29],"nice":false,"zero":false},"axis":null},"x2":{"field":"time2"},"y2":{"field":"strain2"},"color":{"field":"series","type":"nominal","legend":null}}},
{"data":{"name":"leaders"},"transform":[{"filter":"datum.panel == 1"}],"mark":{"type":"text","align":"left","baseline":"middle","dx":3,"fontSize":14},"encoding":{"x":{"field":"time2","type":"quantitative","scale":{"domain":[-6,80],"nice":false,"zero":false},"axis":null},"y":{"field":"strain2","type":"quantitative","scale":{"domain":[-0.17,0.29],"nice":false,"zero":false},"axis":null},"text":{"field":"series"},"color":{"field":"series","type":"nominal","legend":null}}},
{"data":{"name":"notes"},"transform":[{"filter":"datum.panel == 1"}],"mark":{"type":"text","align":"center","baseline":"middle","fontSize":14,"color":"#111"},"encoding":{"x":{"field":"time","type":"quantitative","scale":{"domain":[-6,80],"nice":false,"zero":false},"axis":{"orient":"top","values":[0,20,40,60,80],"tickSize":-6,"labels":false,"title":null}},"y":{"field":"strain","type":"quantitative","scale":{"domain":[-0.17,0.29],"nice":false,"zero":false},"axis":{"orient":"right","values":[-0.1,0,0.1,0.2],"tickSize":-6,"labels":false,"title":null}},"text":{"field":"note"}}},
{"data":{"name":"notes"},"transform":[{"filter":"datum.panel == 1"}],"mark":{"type":"point","opacity":0},"encoding":{"x":{"field":"time","type":"quantitative","scale":{"domain":[-6,80],"nice":false,"zero":false},"axis":{"orient":"bottom","values":[10,30,50,70],"tickSize":-3,"labels":false,"title":null}},"y":{"field":"strain","type":"quantitative","scale":{"domain":[-0.17,0.29],"nice":false,"zero":false},"axis":{"orient":"left","values":[-0.15,-0.05,0.05,0.15,0.25],"tickSize":-3,"labels":false,"title":null}}}},
{"data":{"name":"notes"},"transform":[{"filter":"datum.panel == 1"}],"mark":{"type":"point","opacity":0},"encoding":{"x":{"field":"time","type":"quantitative","scale":{"domain":[-6,80],"nice":false,"zero":false},"axis":{"orient":"top","values":[10,30,50,70],"tickSize":-3,"labels":false,"title":null}},"y":{"field":"strain","type":"quantitative","scale":{"domain":[-0.17,0.29],"nice":false,"zero":false},"axis":{"orient":"right","values":[-0.15,-0.05,0.05,0.15,0.25],"tickSize":-3,"labels":false,"title":null}}}}
]},
{"width":227,"height":321,"resolve":{"axis":{"x":"independent","y":"independent"}},"layer":[
{"data":{"values":[{"baseline":0}]},"mark":{"type":"rule","strokeDash":[4,3],"color":"#444","strokeWidth":1},"encoding":{"y":{"field":"baseline","type":"quantitative","scale":{"domain":[-0.17,0.29],"nice":false,"zero":false},"axis":null}}},
{"data":{"name":"series"},"transform":[{"filter":"datum.panel == 2 && datum.time <= 16"}],"mark":{"type":"line","strokeWidth":7,"strokeCap":"round","strokeJoin":"round","clip":true},"encoding":{"x":{"field":"time","type":"quantitative","scale":{"domain":[-6,80],"nice":false,"zero":false},"axis":{"orient":"bottom","values":[0,20,40,60,80],"tickSize":-6,"labelPadding":4,"title":"Elapsed time (days)","titleFontSize":14,"titlePadding":4}},"y":{"field":"strain","type":"quantitative","scale":{"domain":[-0.17,0.29],"nice":false,"zero":false},"axis":{"orient":"left","values":[-0.1,0,0.1,0.2],"tickSize":-6,"labelPadding":4,"labelExpr":"datum.value == 0 ? '0' : format(datum.value, '.1f')","title":"εx (%)","titlePadding":6}},"color":{"field":"series","type":"nominal","scale":{"domain":["0.6 MPa","0.5 MPa","0.4 MPa","0.3 MPa","0.2 MPa","0.1 MPa"],"range":["#7a2a9e","#ef3f9a","#fb9338","#fd3a20","#1c3797","#1f9f4a"]},"legend":null}}},
{"data":{"name":"series"},"transform":[{"filter":"datum.panel == 2 && datum.time >= 16"}],"mark":{"type":"line","strokeWidth":1,"clip":true},"encoding":{"x":{"field":"time","type":"quantitative","scale":{"domain":[-6,80],"nice":false,"zero":false},"axis":null},"y":{"field":"strain","type":"quantitative","scale":{"domain":[-0.17,0.29],"nice":false,"zero":false},"axis":null},"color":{"field":"series","type":"nominal","legend":null}}},
{"data":{"name":"series"},"transform":[{"filter":"datum.panel == 2 && datum.time >= 16"}],"mark":{"type":"circle","size":45,"opacity":1,"clip":true},"encoding":{"x":{"field":"time","type":"quantitative","scale":{"domain":[-6,80],"nice":false,"zero":false},"axis":null},"y":{"field":"strain","type":"quantitative","scale":{"domain":[-0.17,0.29],"nice":false,"zero":false},"axis":null},"color":{"field":"series","type":"nominal","legend":null}}},
{"data":{"name":"leaders"},"transform":[{"filter":"datum.panel == 2"}],"mark":{"type":"rule","strokeWidth":1},"encoding":{"x":{"field":"time","type":"quantitative","scale":{"domain":[-6,80],"nice":false,"zero":false},"axis":null},"y":{"field":"strain","type":"quantitative","scale":{"domain":[-0.17,0.29],"nice":false,"zero":false},"axis":null},"x2":{"field":"time2"},"y2":{"field":"strain2"},"color":{"field":"series","type":"nominal","legend":null}}},
{"data":{"name":"leaders"},"transform":[{"filter":"datum.panel == 2"}],"mark":{"type":"text","align":"left","baseline":"middle","dx":3,"fontSize":14},"encoding":{"x":{"field":"time2","type":"quantitative","scale":{"domain":[-6,80],"nice":false,"zero":false},"axis":null},"y":{"field":"strain2","type":"quantitative","scale":{"domain":[-0.17,0.29],"nice":false,"zero":false},"axis":null},"text":{"field":"series"},"color":{"field":"series","type":"nominal","legend":null}}},
{"data":{"name":"notes"},"transform":[{"filter":"datum.panel == 2"}],"mark":{"type":"text","align":"center","baseline":"middle","fontSize":14,"color":"#111"},"encoding":{"x":{"field":"time","type":"quantitative","scale":{"domain":[-6,80],"nice":false,"zero":false},"axis":{"orient":"top","values":[0,20,40,60,80],"tickSize":-6,"labels":false,"title":null}},"y":{"field":"strain","type":"quantitative","scale":{"domain":[-0.17,0.29],"nice":false,"zero":false},"axis":{"orient":"right","values":[-0.1,0,0.1,0.2],"tickSize":-6,"labels":false,"title":null}},"text":{"field":"note"}}},
{"data":{"name":"notes"},"transform":[{"filter":"datum.panel == 2"}],"mark":{"type":"point","opacity":0},"encoding":{"x":{"field":"time","type":"quantitative","scale":{"domain":[-6,80],"nice":false,"zero":false},"axis":{"orient":"bottom","values":[10,30,50,70],"tickSize":-3,"labels":false,"title":null}},"y":{"field":"strain","type":"quantitative","scale":{"domain":[-0.17,0.29],"nice":false,"zero":false},"axis":{"orient":"left","values":[-0.15,-0.05,0.05,0.15,0.25],"tickSize":-3,"labels":false,"title":null}}}},
{"data":{"name":"notes"},"transform":[{"filter":"datum.panel == 2"}],"mark":{"type":"point","opacity":0},"encoding":{"x":{"field":"time","type":"quantitative","scale":{"domain":[-6,80],"nice":false,"zero":false},"axis":{"orient":"top","values":[10,30,50,70],"tickSize":-3,"labels":false,"title":null}},"y":{"field":"strain","type":"quantitative","scale":{"domain":[-0.17,0.29],"nice":false,"zero":false},"axis":{"orient":"right","values":[-0.15,-0.05,0.05,0.15,0.25],"tickSize":-3,"labels":false,"title":null}}}}
]},
{"width":227,"height":321,"resolve":{"axis":{"x":"independent","y":"independent"}},"layer":[
{"data":{"values":[{"baseline":0}]},"mark":{"type":"rule","strokeDash":[4,3],"color":"#444","strokeWidth":1},"encoding":{"y":{"field":"baseline","type":"quantitative","scale":{"domain":[-0.17,0.29],"nice":false,"zero":false},"axis":null}}},
{"data":{"name":"series"},"transform":[{"filter":"datum.panel == 3"}],"mark":{"type":"line","strokeWidth":7,"strokeCap":"round","strokeJoin":"round","clip":true},"encoding":{"x":{"field":"time","type":"quantitative","scale":{"domain":[-6,80],"nice":false,"zero":false},"axis":{"orient":"bottom","values":[0,20,40,60,80],"tickSize":-6,"labelPadding":4,"title":"Elapsed time (days)","titleFontSize":14,"titlePadding":4}},"y":{"field":"strain","type":"quantitative","scale":{"domain":[-0.17,0.29],"nice":false,"zero":false},"axis":{"orient":"left","values":[-0.1,0,0.1,0.2],"tickSize":-6,"labelPadding":4,"labelExpr":"datum.value == 0 ? '0' : format(datum.value, '.1f')","title":"εy (%)","titlePadding":6}},"color":{"field":"series","type":"nominal","scale":{"domain":["0.6 MPa","0.5 MPa","0.4 MPa","0.3 MPa","0.2 MPa","0.1 MPa"],"range":["#7a2a9e","#ef3f9a","#fb9338","#fd3a20","#1c3797","#1f9f4a"]},"legend":null}}},
{"data":{"name":"series"},"transform":[{"filter":"datum.panel == 3"}],"mark":{"type":"circle","size":45,"opacity":1,"clip":true},"encoding":{"x":{"field":"time","type":"quantitative","scale":{"domain":[-6,80],"nice":false,"zero":false},"axis":null},"y":{"field":"strain","type":"quantitative","scale":{"domain":[-0.17,0.29],"nice":false,"zero":false},"axis":null},"color":{"field":"series","type":"nominal","legend":null}}},
{"data":{"name":"leaders"},"transform":[{"filter":"datum.panel == 3"}],"mark":{"type":"rule","strokeWidth":1},"encoding":{"x":{"field":"time","type":"quantitative","scale":{"domain":[-6,80],"nice":false,"zero":false},"axis":null},"y":{"field":"strain","type":"quantitative","scale":{"domain":[-0.17,0.29],"nice":false,"zero":false},"axis":null},"x2":{"field":"time2"},"y2":{"field":"strain2"},"color":{"field":"series","type":"nominal","legend":null}}},
{"data":{"name":"leaders"},"transform":[{"filter":"datum.panel == 3"}],"mark":{"type":"text","align":"left","baseline":"middle","dx":3,"fontSize":14},"encoding":{"x":{"field":"time2","type":"quantitative","scale":{"domain":[-6,80],"nice":false,"zero":false},"axis":null},"y":{"field":"strain2","type":"quantitative","scale":{"domain":[-0.17,0.29],"nice":false,"zero":false},"axis":null},"text":{"field":"series"},"color":{"field":"series","type":"nominal","legend":null}}},
{"data":{"name":"notes"},"transform":[{"filter":"datum.panel == 3"}],"mark":{"type":"text","align":"center","baseline":"middle","fontSize":14,"color":"#111"},"encoding":{"x":{"field":"time","type":"quantitative","scale":{"domain":[-6,80],"nice":false,"zero":false},"axis":{"orient":"top","values":[0,20,40,60,80],"tickSize":-6,"labels":false,"title":null}},"y":{"field":"strain","type":"quantitative","scale":{"domain":[-0.17,0.29],"nice":false,"zero":false},"axis":{"orient":"right","values":[-0.1,0,0.1,0.2],"tickSize":-6,"labels":false,"title":null}},"text":{"field":"note"}}},
{"data":{"name":"notes"},"transform":[{"filter":"datum.panel == 3"}],"mark":{"type":"point","opacity":0},"encoding":{"x":{"field":"time","type":"quantitative","scale":{"domain":[-6,80],"nice":false,"zero":false},"axis":{"orient":"bottom","values":[10,30,50,70],"tickSize":-3,"labels":false,"title":null}},"y":{"field":"strain","type":"quantitative","scale":{"domain":[-0.17,0.29],"nice":false,"zero":false},"axis":{"orient":"left","values":[-0.15,-0.05,0.05,0.15,0.25],"tickSize":-3,"labels":false,"title":null}}}},
{"data":{"name":"notes"},"transform":[{"filter":"datum.panel == 3"}],"mark":{"type":"point","opacity":0},"encoding":{"x":{"field":"time","type":"quantitative","scale":{"domain":[-6,80],"nice":false,"zero":false},"axis":{"orient":"top","values":[10,30,50,70],"tickSize":-3,"labels":false,"title":null}},"y":{"field":"strain","type":"quantitative","scale":{"domain":[-0.17,0.29],"nice":false,"zero":false},"axis":{"orient":"right","values":[-0.15,-0.05,0.05,0.15,0.25],"tickSize":-3,"labels":false,"title":null}}}}
]},
{"width":227,"height":321,"resolve":{"axis":{"x":"independent","y":"independent"}},"layer":[
{"data":{"values":[{"baseline":0}]},"mark":{"type":"rule","strokeDash":[4,3],"color":"#444","strokeWidth":1},"encoding":{"y":{"field":"baseline","type":"quantitative","scale":{"domain":[-0.17,0.29],"nice":false,"zero":false},"axis":null}}},
{"data":{"name":"series"},"transform":[{"filter":"datum.panel == 4"}],"mark":{"type":"line","strokeWidth":7,"strokeCap":"round","strokeJoin":"round","clip":true},"encoding":{"x":{"field":"time","type":"quantitative","scale":{"domain":[-6,80],"nice":false,"zero":false},"axis":{"orient":"bottom","values":[0,20,40,60,80],"tickSize":-6,"labelPadding":4,"title":"Elapsed time (days)","titleFontSize":14,"titlePadding":4}},"y":{"field":"strain","type":"quantitative","scale":{"domain":[-0.17,0.29],"nice":false,"zero":false},"axis":{"orient":"left","values":[-0.1,0,0.1,0.2],"tickSize":-6,"labelPadding":4,"labelExpr":"datum.value == 0 ? '0' : format(datum.value, '.1f')","title":"εy (%)","titlePadding":6}},"color":{"field":"series","type":"nominal","scale":{"domain":["0.6 MPa","0.5 MPa","0.4 MPa","0.3 MPa","0.2 MPa","0.1 MPa"],"range":["#7a2a9e","#ef3f9a","#fb9338","#fd3a20","#1c3797","#1f9f4a"]},"legend":null}}},
{"data":{"name":"series"},"transform":[{"filter":"datum.panel == 4"}],"mark":{"type":"circle","size":45,"opacity":1,"clip":true},"encoding":{"x":{"field":"time","type":"quantitative","scale":{"domain":[-6,80],"nice":false,"zero":false},"axis":null},"y":{"field":"strain","type":"quantitative","scale":{"domain":[-0.17,0.29],"nice":false,"zero":false},"axis":null},"color":{"field":"series","type":"nominal","legend":null}}},
{"data":{"name":"leaders"},"transform":[{"filter":"datum.panel == 4"}],"mark":{"type":"rule","strokeWidth":1},"encoding":{"x":{"field":"time","type":"quantitative","scale":{"domain":[-6,80],"nice":false,"zero":false},"axis":null},"y":{"field":"strain","type":"quantitative","scale":{"domain":[-0.17,0.29],"nice":false,"zero":false},"axis":null},"x2":{"field":"time2"},"y2":{"field":"strain2"},"color":{"field":"series","type":"nominal","legend":null}}},
{"data":{"name":"leaders"},"transform":[{"filter":"datum.panel == 4"}],"mark":{"type":"text","align":"left","baseline":"middle","dx":3,"fontSize":14},"encoding":{"x":{"field":"time2","type":"quantitative","scale":{"domain":[-6,80],"nice":false,"zero":false},"axis":null},"y":{"field":"strain2","type":"quantitative","scale":{"domain":[-0.17,0.29],"nice":false,"zero":false},"axis":null},"text":{"field":"series"},"color":{"field":"series","type":"nominal","legend":null}}},
{"data":{"name":"notes"},"transform":[{"filter":"datum.panel == 4"}],"mark":{"type":"text","align":"center","baseline":"middle","fontSize":14,"color":"#111"},"encoding":{"x":{"field":"time","type":"quantitative","scale":{"domain":[-6,80],"nice":false,"zero":false},"axis":{"orient":"top","values":[0,20,40,60,80],"tickSize":-6,"labels":false,"title":null}},"y":{"field":"strain","type":"quantitative","scale":{"domain":[-0.17,0.29],"nice":false,"zero":false},"axis":{"orient":"right","values":[-0.1,0,0.1,0.2],"tickSize":-6,"labels":false,"title":null}},"text":{"field":"note"}}},
{"data":{"name":"notes"},"transform":[{"filter":"datum.panel == 4"}],"mark":{"type":"point","opacity":0},"encoding":{"x":{"field":"time","type":"quantitative","scale":{"domain":[-6,80],"nice":false,"zero":false},"axis":{"orient":"bottom","values":[10,30,50,70],"tickSize":-3,"labels":false,"title":null}},"y":{"field":"strain","type":"quantitative","scale":{"domain":[-0.17,0.29],"nice":false,"zero":false},"axis":{"orient":"left","values":[-0.15,-0.05,0.05,0.15,0.25],"tickSize":-3,"labels":false,"title":null}}}},
{"data":{"name":"notes"},"transform":[{"filter":"datum.panel == 4"}],"mark":{"type":"point","opacity":0},"encoding":{"x":{"field":"time","type":"quantitative","scale":{"domain":[-6,80],"nice":false,"zero":false},"axis":{"orient":"top","values":[10,30,50,70],"tickSize":-3,"labels":false,"title":null}},"y":{"field":"strain","type":"quantitative","scale":{"domain":[-0.17,0.29],"nice":false,"zero":false},"axis":{"orient":"right","values":[-0.15,-0.05,0.05,0.15,0.25],"tickSize":-3,"labels":false,"title":null}}}}
]}
]
}
